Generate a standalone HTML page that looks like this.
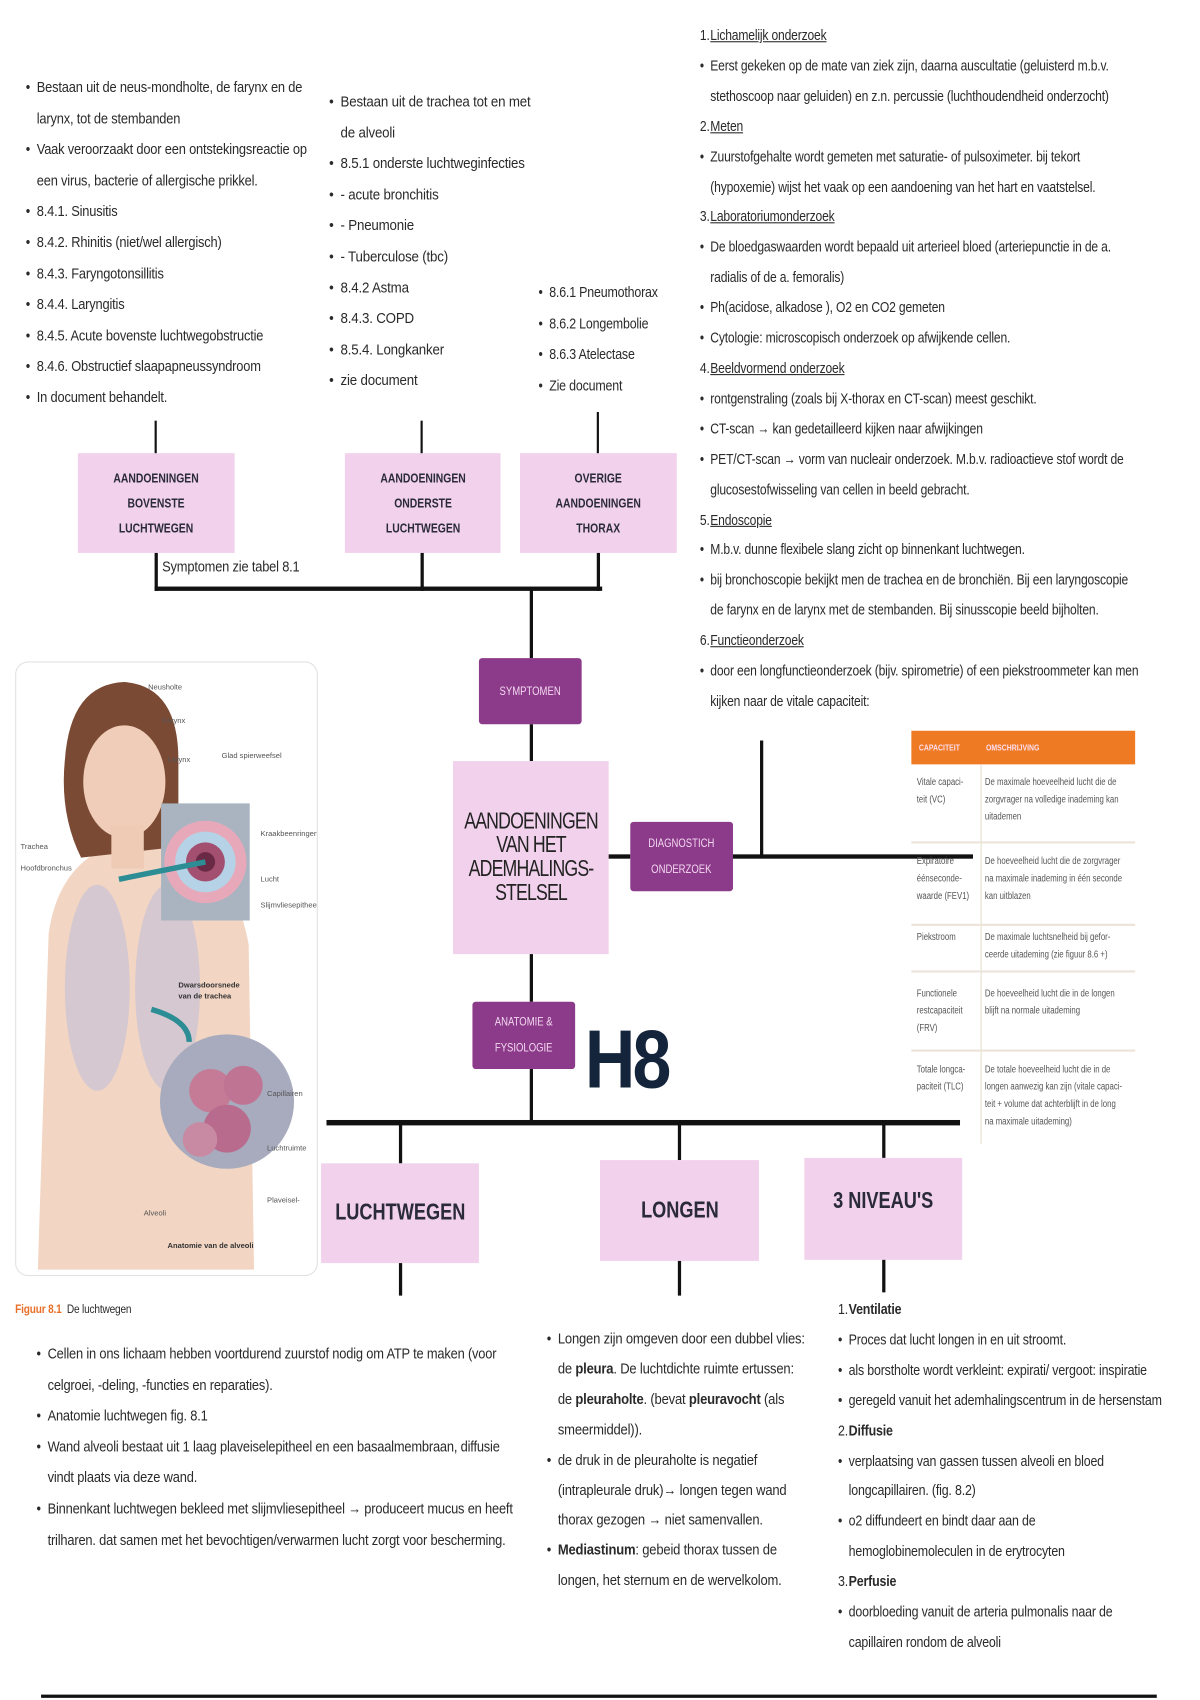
<!DOCTYPE html>
<html><head><meta charset="utf-8">
<style>
html,body{margin:0;padding:0;background:#fff;}
body{width:1200px;height:1700px;overflow:hidden;position:relative;}
#w{position:absolute;left:0;top:0;width:1110px;height:1568px;transform:scale(1.0811,1.0842);transform-origin:0 0;font-family:"Liberation Sans",sans-serif;color:#2a2a2a;}
.t{position:absolute;font-size:14px;line-height:28.6px;white-space:nowrap;letter-spacing:-0.2px;transform-origin:0 0;}
.t div{position:relative;}
.b:before{content:"•";position:absolute;left:-12px;}
.u{text-decoration:underline;}
.box{position:absolute;background:#f1d1ec;display:flex;align-items:center;justify-content:center;text-align:center;font-weight:bold;color:#2a2a3a;}
.pb{position:absolute;background:#8c3a8a;color:#f3d8f0;display:flex;align-items:center;justify-content:center;text-align:center;font-size:11px;line-height:24px;border-radius:3px;}
.l{position:absolute;background:#111;}
.tbl{position:absolute;font-size:9px;line-height:16px;color:#555;white-space:nowrap;transform:scaleX(0.8);transform-origin:0 0;}
.sq{display:inline-block;transform:scaleX(0.8);}
</style></head><body><div id="w">

<div class="t" style="left:34px;top:66px;transform:scaleX(0.85);">
<div class="b">Bestaan uit de neus-mondholte, de farynx en de</div>
<div>larynx, tot de stembanden</div>
<div class="b">Vaak veroorzaakt door een ontstekingsreactie op</div>
<div>een virus, bacterie of allergische prikkel.</div>
<div class="b">8.4.1. Sinusitis</div>
<div class="b">8.4.2. Rhinitis (niet/wel allergisch)</div>
<div class="b">8.4.3. Faryngotonsillitis</div>
<div class="b">8.4.4. Laryngitis</div>
<div class="b">8.4.5. Acute bovenste luchtwegobstructie</div>
<div class="b">8.4.6. Obstructief slaapapneussyndroom</div>
<div class="b">In document behandelt.</div>
</div>

<div class="t" style="left:315px;top:79px;transform:scaleX(0.88);">
<div class="b">Bestaan uit de trachea tot en met</div>
<div>de alveoli</div>
<div class="b">8.5.1 onderste luchtweginfecties</div>
<div class="b">- acute bronchitis</div>
<div class="b">- Pneumonie</div>
<div class="b">- Tuberculose (tbc)</div>
<div class="b">8.4.2 Astma</div>
<div class="b">8.4.3. COPD</div>
<div class="b">8.5.4. Longkanker</div>
<div class="b">zie document</div>
</div>

<div class="t" style="left:508px;top:255px;transform:scaleX(0.82);">
<div class="b">8.6.1 Pneumothorax</div>
<div class="b">8.6.2 Longembolie</div>
<div class="b">8.6.3 Atelectase</div>
<div class="b">Zie document</div>
</div>

<div class="t" style="left:657px;top:19px;line-height:27.9px;transform:scaleX(0.8);">
<div><span style="position:absolute;left:-12px">1.</span><span class="u">Lichamelijk onderzoek</span></div>
<div class="b">Eerst gekeken op de mate van ziek zijn, daarna auscultatie (geluisterd m.b.v.</div>
<div>stethoscoop naar geluiden) en z.n. percussie (luchthoudendheid onderzocht)</div>
<div><span style="position:absolute;left:-12px">2.</span><span class="u">Meten</span></div>
<div class="b">Zuurstofgehalte wordt gemeten met saturatie- of pulsoximeter. bij tekort</div>
<div>(hypoxemie) wijst het vaak op een aandoening van het hart en vaatstelsel.</div>
<div><span style="position:absolute;left:-12px">3.</span><span class="u">Laboratoriumonderzoek</span></div>
<div class="b">De bloedgaswaarden wordt bepaald uit arterieel bloed (arteriepunctie in de a.</div>
<div>radialis of de a. femoralis)</div>
<div class="b">Ph(acidose, alkadose ), O2 en CO2 gemeten</div>
<div class="b">Cytologie: microscopisch onderzoek op afwijkende cellen.</div>
<div><span style="position:absolute;left:-12px">4.</span><span class="u">Beeldvormend onderzoek</span></div>
<div class="b">rontgenstraling (zoals bij X-thorax en CT-scan) meest geschikt.</div>
<div class="b">CT-scan → kan gedetailleerd kijken naar afwijkingen</div>
<div class="b">PET/CT-scan → vorm van nucleair onderzoek. M.b.v. radioactieve stof wordt de</div>
<div>glucosestofwisseling van cellen in beeld gebracht.</div>
<div><span style="position:absolute;left:-12px">5.</span><span class="u">Endoscopie</span></div>
<div class="b">M.b.v. dunne flexibele slang zicht op binnenkant luchtwegen.</div>
<div class="b">bij bronchoscopie bekijkt men de trachea en de bronchiën. Bij een laryngoscopie</div>
<div>de farynx en de larynx met de stembanden. Bij sinusscopie beeld bijholten.</div>
<div><span style="position:absolute;left:-12px">6.</span><span class="u">Functieonderzoek</span></div>
<div class="b">door een longfunctieonderzoek (bijv. spirometrie) of een piekstroommeter kan men</div>
<div>kijken naar de vitale capaciteit:</div>
</div>

<div class="box" style="left:72px;top:418px;width:145px;height:92px;font-size:12px;line-height:23px;"><span class="sq">AANDOENINGEN<br>BOVENSTE<br>LUCHTWEGEN</span></div>
<div class="box" style="left:319px;top:418px;width:144px;height:92px;font-size:12px;line-height:23px;"><span class="sq">AANDOENINGEN<br>ONDERSTE<br>LUCHTWEGEN</span></div>
<div class="box" style="left:481px;top:418px;width:145px;height:92px;font-size:12px;line-height:23px;"><span class="sq">OVERIGE<br>AANDOENINGEN<br>THORAX</span></div>
<div class="l" style="left:143px;top:388px;width:2px;height:30px"></div>
<div class="l" style="left:389px;top:388px;width:2px;height:30px"></div>
<div class="l" style="left:552px;top:380px;width:2px;height:38px"></div>
<div class="l" style="left:143px;top:510px;width:3px;height:35px"></div>
<div class="l" style="left:389px;top:510px;width:3px;height:35px"></div>
<div class="l" style="left:552px;top:510px;width:3px;height:35px"></div>
<div class="l" style="left:143px;top:541px;width:414px;height:4px"></div>
<div class="t" style="left:150px;top:508px;transform:scaleX(0.85);">Symptomen zie tabel 8.1</div>
<div class="l" style="left:490px;top:543px;width:3px;height:64px"></div>

<div class="pb" style="left:443px;top:607px;width:95px;height:61px;"><span class="sq">SYMPTOMEN</span></div>
<div class="l" style="left:490px;top:668px;width:3px;height:34px"></div>
<div class="box" style="left:419px;top:702px;width:144px;height:178px;font-weight:normal;font-size:21px;line-height:22px;letter-spacing:-1px;color:#222;"><span style="display:inline-block;transform:scaleX(0.78);">AANDOENINGEN<br>VAN HET<br>ADEMHALINGS-<br>STELSEL</span></div>
<div class="l" style="left:563px;top:788px;width:20px;height:4px"></div>
<div class="pb" style="left:583px;top:758px;width:95px;height:64px;"><span class="sq">DIAGNOSTICH<br>ONDERZOEK</span></div>
<div class="l" style="left:678px;top:788px;width:222px;height:4px"></div>
<div class="l" style="left:703px;top:683px;width:3px;height:107px"></div>

<div class="l" style="left:490px;top:880px;width:3px;height:44px"></div>
<div class="pb" style="left:437px;top:924px;width:95px;height:62px;"><span class="sq">ANATOMIE &amp;<br>FYSIOLOGIE</span></div>
<div class="l" style="left:490px;top:986px;width:3px;height:49px"></div>
<div style="position:absolute;left:541px;top:938px;font-weight:bold;font-size:76px;line-height:80px;color:#14243a;letter-spacing:-3px;transform:scaleX(0.85);transform-origin:0 0;">H8</div>

<div class="l" style="left:302px;top:1033px;width:586px;height:5px"></div>
<div class="l" style="left:369px;top:1035px;width:3px;height:38px"></div>
<div class="l" style="left:627px;top:1035px;width:3px;height:35px"></div>
<div class="l" style="left:816px;top:1035px;width:3px;height:33px"></div>
<div class="box" style="left:297px;top:1073px;width:146px;height:92px;font-size:21px;"><span class="sq">LUCHTWEGEN</span></div>
<div class="box" style="left:555px;top:1070px;width:147px;height:93px;font-size:21px;"><span class="sq">LONGEN</span></div>
<div class="box" style="left:744px;top:1068px;width:146px;height:94px;font-size:21px;align-items:flex-start;padding-top:28px;box-sizing:border-box;"><span class="sq">3 NIVEAU'S</span></div>
<div class="l" style="left:369px;top:1165px;width:3px;height:30px"></div>
<div class="l" style="left:627px;top:1163px;width:3px;height:32px"></div>
<div class="l" style="left:816px;top:1162px;width:3px;height:30px"></div>

<div style="position:absolute;left:843px;top:674px;width:207px;height:31px;background:#ef7a24;"></div>
<div class="tbl" style="left:850px;top:682px;color:#fde;font-size:8px;font-weight:bold;">CAPACITEIT</div>
<div class="tbl" style="left:912px;top:682px;color:#fde;font-size:8px;font-weight:bold;">OMSCHRIJVING</div>
<div style="position:absolute;left:907px;top:705px;width:1px;height:350px;background:#e8ded0;"></div>
<div style="position:absolute;left:843px;top:776px;width:207px;height:2px;background:#ece4da;"></div>
<div style="position:absolute;left:843px;top:852px;width:207px;height:2px;background:#ece4da;"></div>
<div style="position:absolute;left:843px;top:895px;width:207px;height:2px;background:#ece4da;"></div>
<div style="position:absolute;left:843px;top:968px;width:207px;height:2px;background:#ece4da;"></div>
<div class="tbl" style="left:848px;top:713px;">Vitale capaci-<br>teit (VC)</div>
<div class="tbl" style="left:911px;top:713px;">De maximale hoeveelheid lucht die de<br>zorgvrager na volledige inademing kan<br>uitademen</div>
<div class="tbl" style="left:848px;top:786px;">Expiratoire<br>éénseconde-<br>waarde (FEV1)</div>
<div class="tbl" style="left:911px;top:786px;">De hoeveelheid lucht die de zorgvrager<br>na maximale inademing in één seconde<br>kan uitblazen</div>
<div class="tbl" style="left:848px;top:856px;">Piekstroom</div>
<div class="tbl" style="left:911px;top:856px;">De maximale luchtsnelheid bij gefor-<br>ceerde uitademing (zie figuur 8.6 +)</div>
<div class="tbl" style="left:848px;top:908px;">Functionele<br>restcapaciteit<br>(FRV)</div>
<div class="tbl" style="left:911px;top:908px;">De hoeveelheid lucht die in de longen<br>blijft na normale uitademing</div>
<div class="tbl" style="left:848px;top:978px;">Totale longca-<br>paciteit (TLC)</div>
<div class="tbl" style="left:911px;top:978px;">De totale hoeveelheid lucht die in de<br>longen aanwezig kan zijn (vitale capaci-<br>teit + volume dat achterblijft in de long<br>na maximale uitademing)</div>

<div style="position:absolute;left:14px;top:610px;width:278px;height:565px;border:1px solid #e2e2e2;border-radius:12px;background:#fff;overflow:hidden;">
<svg width="278" height="565" viewBox="0 0 278 565">
<path d="M20 560 L30 250 Q40 180 100 165 L140 165 Q200 180 215 260 L220 560 Z" fill="#f2d5c3"/>
<path d="M45 90 Q50 20 100 18 Q150 22 150 90 L150 170 L60 180 Q40 140 45 90 Z" fill="#7b4a34"/>
<ellipse cx="100" cy="110" rx="38" ry="52" fill="#f0cdb8"/>
<rect x="88" y="150" width="30" height="40" fill="#efcab4"/>
<ellipse cx="75" cy="300" rx="30" ry="95" fill="#c9c2d6" opacity="0.7"/>
<ellipse cx="140" cy="300" rx="30" ry="95" fill="#c9c2d6" opacity="0.7"/>
<rect x="134" y="130" width="82" height="108" fill="#a9b4c0"/>
<circle cx="175" cy="184" r="38" fill="#e7a9b9"/>
<circle cx="175" cy="184" r="28" fill="#b6d2e6"/>
<circle cx="175" cy="184" r="18" fill="#a34f70"/>
<circle cx="175" cy="184" r="9" fill="#6a2a45"/>
<circle cx="195" cy="405" r="62" fill="#a7abbd"/>
<circle cx="180" cy="395" r="20" fill="#c57a95"/>
<circle cx="210" cy="390" r="18" fill="#c07494"/>
<circle cx="195" cy="430" r="22" fill="#b86b8c"/>
<circle cx="170" cy="440" r="16" fill="#c88aa3"/>
<path d="M95 200 L175 184" stroke="#2c8d95" stroke-width="5" fill="none"/>
<path d="M125 320 Q160 330 160 350" stroke="#2c8d95" stroke-width="5" fill="none"/>
<text x="150" y="300" font-size="7" font-weight="bold" fill="#333">Dwarsdoorsnede</text>
<text x="150" y="310" font-size="7" font-weight="bold" fill="#333">van de trachea</text>
<text x="140" y="540" font-size="7" font-weight="bold" fill="#333">Anatomie van de alveoli</text>
<text x="122" y="25" font-size="7" fill="#555">Neusholte</text>
<text x="135" y="56" font-size="7" fill="#555">Farynx</text>
<text x="140" y="92" font-size="7" fill="#555">Larynx</text>
<text x="190" y="88" font-size="7" fill="#555">Glad spierweefsel</text>
<text x="4" y="172" font-size="7" fill="#555">Trachea</text>
<text x="4" y="192" font-size="7" fill="#555">Hoofdbronchus</text>
<text x="226" y="160" font-size="7" fill="#555">Kraakbeenringen</text>
<text x="226" y="202" font-size="7" fill="#555">Lucht</text>
<text x="226" y="226" font-size="7" fill="#555">Slijmvliesepitheel</text>
<text x="232" y="400" font-size="7" fill="#555">Capillairen</text>
<text x="232" y="450" font-size="7" fill="#555">Luchtruimte</text>
<text x="232" y="498" font-size="7" fill="#555">Plaveisel-</text>
<text x="118" y="510" font-size="7" fill="#555">Alveoli</text>
</svg></div>
<div class="t" style="left:14px;top:1194px;font-size:11px;transform:scaleX(0.85);"><span style="color:#e8702a;font-weight:bold;">Figuur 8.1</span>&nbsp;&nbsp;De luchtwegen</div>

<div class="t" style="left:44px;top:1234px;transform:scaleX(0.85);">
<div class="b">Cellen in ons lichaam hebben voortdurend zuurstof nodig om ATP te maken (voor</div>
<div>celgroei, -deling, -functies en reparaties).</div>
<div class="b">Anatomie luchtwegen fig. 8.1</div>
<div class="b">Wand alveoli bestaat uit 1 laag plaveiselepitheel en een basaalmembraan, diffusie</div>
<div>vindt plaats via deze wand.</div>
<div class="b">Binnenkant luchtwegen bekleed met slijmvliesepitheel → produceert mucus en heeft</div>
<div>trilharen. dat samen met het bevochtigen/verwarmen lucht zorgt voor bescherming.</div>
</div>

<div class="t" style="left:516px;top:1221px;line-height:27.9px;transform:scaleX(0.86);">
<div class="b">Longen zijn omgeven door een dubbel vlies:</div>
<div>de <b>pleura</b>. De luchtdichte ruimte ertussen:</div>
<div>de <b>pleuraholte</b>. (bevat <b>pleuravocht</b> (als</div>
<div>smeermiddel)).</div>
<div class="b">de druk in de pleuraholte is negatief</div>
<div>(intrapleurale druk)→ longen tegen wand</div>
<div>thorax gezogen → niet samenvallen.</div>
<div class="b"><b>Mediastinum</b>: gebeid thorax tussen de</div>
<div>longen, het sternum en de wervelkolom.</div>
</div>

<div class="t" style="left:785px;top:1194px;line-height:27.9px;transform:scaleX(0.82);">
<div><span style="position:absolute;left:-12px">1.</span><b>Ventilatie</b></div>
<div class="b">Proces dat lucht longen in en uit stroomt.</div>
<div class="b">als borstholte wordt verkleint: expirati/ vergoot: inspiratie</div>
<div class="b">geregeld vanuit het ademhalingscentrum in de hersenstam</div>
<div><span style="position:absolute;left:-12px">2.</span><b>Diffusie</b></div>
<div class="b">verplaatsing van gassen tussen alveoli en bloed</div>
<div>longcapillairen. (fig. 8.2)</div>
<div class="b">o2 diffundeert en bindt daar aan de</div>
<div>hemoglobinemoleculen in de erytrocyten</div>
<div><span style="position:absolute;left:-12px">3.</span><b>Perfusie</b></div>
<div class="b">doorbloeding vanuit de arteria pulmonalis naar de</div>
<div>capillairen rondom de alveoli</div>
</div>

<div class="l" style="left:38px;top:1563px;width:1032px;height:3px"></div>
</div></body></html>
